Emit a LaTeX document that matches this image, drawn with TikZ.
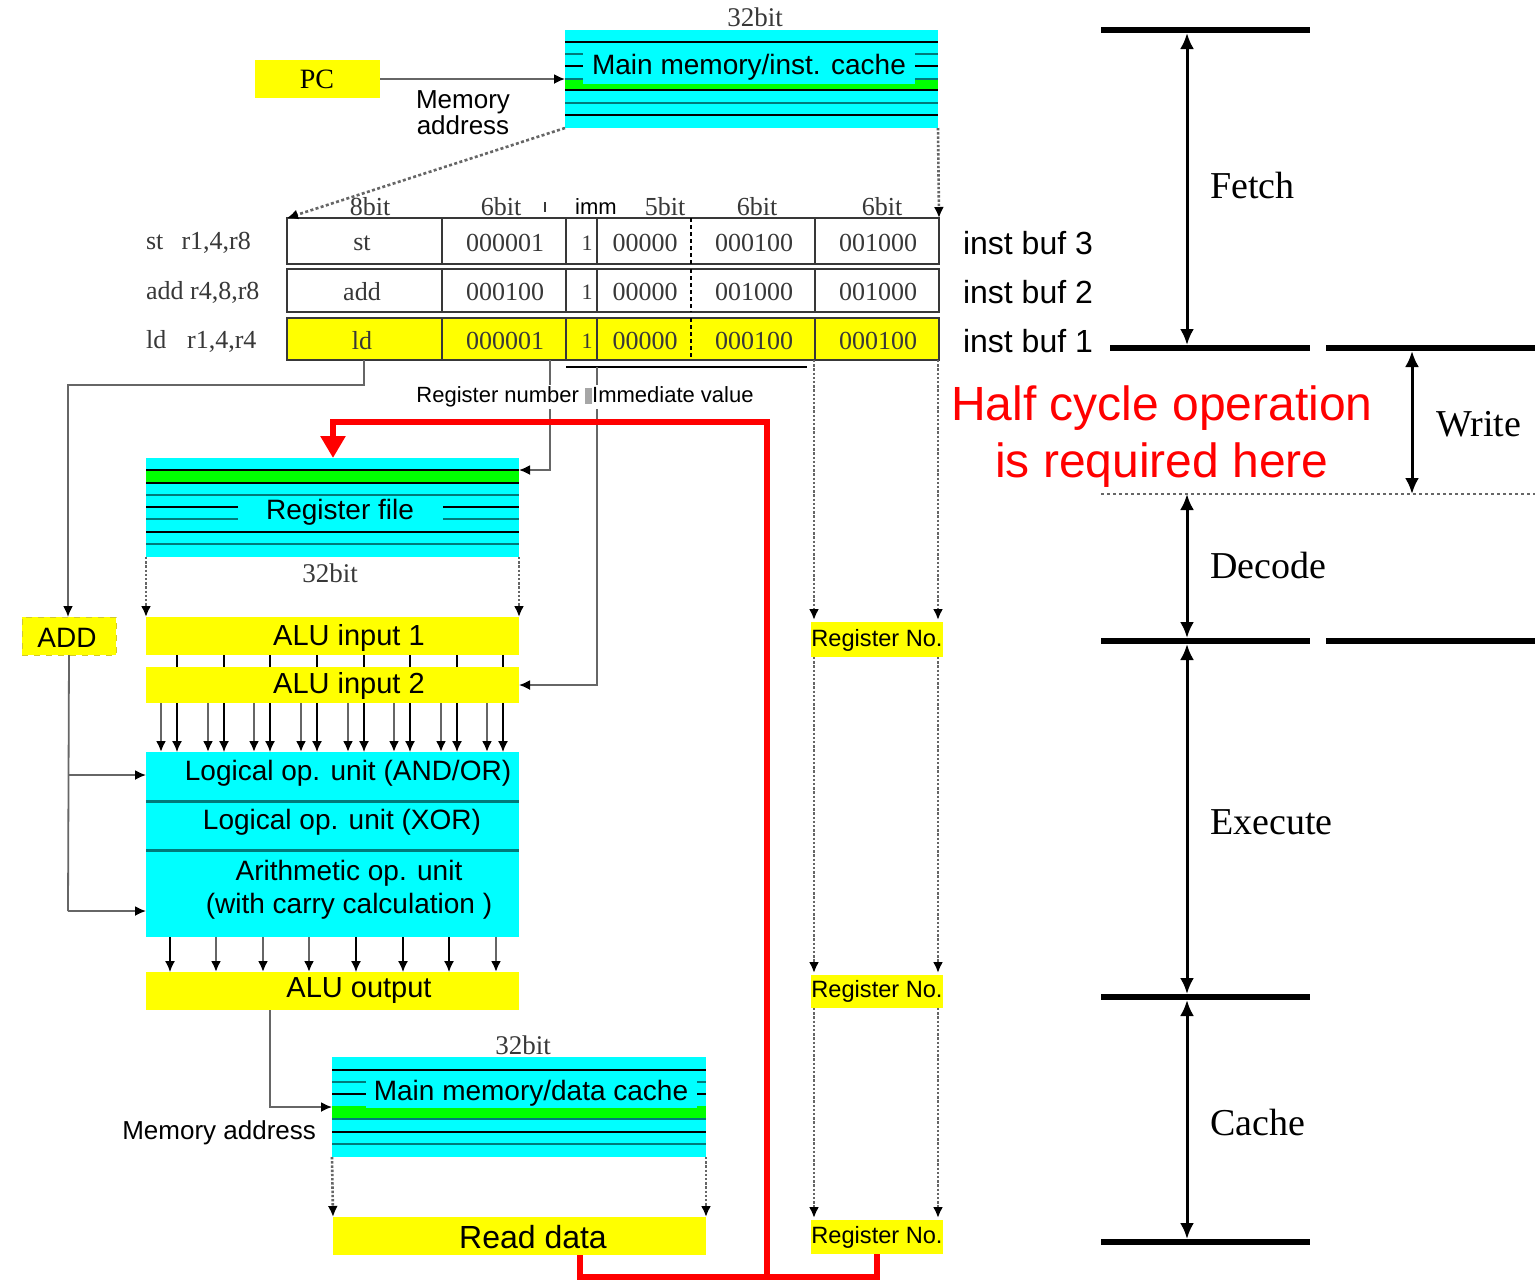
\documentclass[tikz,border=0pt]{standalone}
\usepackage{fontspec}
\setmainfont{Liberation Serif}
\setsansfont{Liberation Sans}
\usetikzlibrary{fit,arrows.meta}
\definecolor{cy}{HTML}{00FFFF}
\definecolor{gr}{HTML}{00FF00}
\definecolor{tl}{HTML}{007A7A}
\definecolor{yl}{HTML}{FFFF00}
\definecolor{ln}{HTML}{666666}
\definecolor{rd}{HTML}{FF0000}
\definecolor{tx}{HTML}{383838}
\begin{document}
\begin{tikzpicture}[x=0.5pt,y=-0.5pt,
  sf/.style={font=\sffamily\fontsize{#1}{#1}\selectfont},
  rmf/.style={font=\rmfamily\fontsize{#1}{#1}\selectfont},
  blk/.style={fit={#1}, inner sep=0pt, outer sep=0pt, fill=cy},
  ybx/.style={fit={#1}, inner sep=0pt, outer sep=0pt, fill=yl},
  blkln/.style={line width=1pt, black},
  tlln/.style={line width=1.3pt, tl},
  conn/.style={line width=0.9pt, ln},
  arrtip/.style={-{Latex[length=5.5pt,width=5pt,color=black]}},
  dotconn/.style={line width=1.3pt, ln, dash pattern=on 1.2pt off 0.9pt},
  tlbar/.style={line width=3pt, line cap=butt},
  tlarr/.style={line width=1.5pt, {Latex[length=8pt,width=7pt]}-{Latex[length=8pt,width=7pt]}},
  redln/.style={line width=2.9pt, rd, line join=miter},
  lbl/.style={fill=cy, inner sep=0pt},
]
\fill[white] (0,0) rectangle (1537,1282);
\useasboundingbox (0,0) rectangle (1537,1282);

% ---------- PC and instruction memory ----------
\node[ybx={(255,60)(380,98)}] (pc) {};
\node[rmf=14] (pct) at (317,79) {PC};
\node[blk={(565,30)(938,128)}] (imem) {};
\fill[gr] (565,79) rectangle (938,90);
\draw[blkln] (565,42) -- (938,42);
\draw[tlln] (565,54) -- (938,54);
\draw[blkln] (565,66) -- (938,66);
\draw[tlln] (565,79) -- (938,79);
\draw[blkln] (565,90) -- (938,90);
\draw[tlln] (565,103) -- (938,103);
\draw[blkln] (565,115) -- (938,115);
\node[lbl, minimum width=166pt, minimum height=17pt, sf=14] (imemlbl) at (749,67) {Main memory/inst. cache};
\node[rmf=13.5, text=tx] (b32a) at (755,17) {32bit};
\draw[conn, arrtip] (pc.east) -- (pc.east -| imem.west);
\node[sf=13, align=center] (maddr1) at (463,113) {Memory\\address};

% ---------- instruction buffer table ----------
\foreach \r/\ya/\yb/\fl in {1/218/264/white, 2/269/312/white, 3/318/360/yl} {
  \node[fit={(287,\ya)(939,\yb)}, inner sep=0pt, outer sep=0pt, fill=\fl, draw=tx, line width=1pt] (row\r) {};
  \foreach \cx in {442,566,597,815} \draw[tx, line width=0.9pt] (\cx,\ya) -- (\cx,\yb);
  \draw[black, line width=0.6pt, dash pattern=on 2pt off 1.5pt] (691,\ya) -- (691,\yb);
}
\draw[dotconn, dash pattern=on 1.5pt off 1.2pt, arrtip] (imem.south west) -- (row1.north west);
\draw[dotconn, arrtip] (imem.south east) -- (row1.north east);

\node[rmf=13, text=tx] (h1) at (370,207) {8bit};
\node[rmf=13, text=tx] (h2) at (501,207) {6bit};
\draw[tx, line width=0.6pt] (545,202) -- (545,212);
\node[sf=11, fill=white, inner sep=1pt] (h3) at (596,207) {imm};
\node[rmf=13, text=tx] (h4) at (665,207) {5bit};
\node[rmf=13, text=tx] (h5) at (757,207) {6bit};
\node[rmf=13, text=tx] (h6) at (882,207) {6bit};

\foreach \y/\a/\b/\c/\d/\e/\f in {243/st/000001/1/00000/000100/001000, 292/add/000100/1/00000/001000/001000, 341/ld/000001/1/00000/000100/000100} {
  \node[rmf=13, text=tx] (ca\y) at (362,\y) {\a};
  \node[rmf=13, text=tx] (cb\y) at (505,\y) {\b};
  \node[rmf=11, text=tx] (cc\y) at (587,\y) {\c};
  \node[rmf=13, text=tx] (cd\y) at (645,\y) {\d};
  \node[rmf=13, text=tx] (ce\y) at (754,\y) {\e};
  \node[rmf=13, text=tx] (cf\y) at (878,\y) {\f};
}
\node[rmf=13, text=tx, anchor=west] (l1) at (139,243) {st\hspace{0.7em}r1,4,r8};
\node[rmf=13, text=tx, anchor=west] (l2) at (139,292) {add r4,8,r8};
\node[rmf=13, text=tx, anchor=west] (l3) at (139,341) {ld\hspace{0.8em}r1,4,r4};
\node[sf=16, anchor=west] (ib3) at (956,243) {inst buf 3};
\node[sf=16, anchor=west] (ib2) at (956,292) {inst buf 2};
\node[sf=16, anchor=west] (ib1) at (956,341) {inst buf 1};

% ---------- register file ----------
\node[blk={(146,458)(519,557)}] (rf) {};
\fill[gr] (146,470) rectangle (519,483);
\draw[blkln] (146,470) -- (519,470);
\draw[blkln] (146,483) -- (519,483);
\draw[tlln] (146,495) -- (519,495);
\draw[blkln] (146,507) -- (519,507);
\draw[tlln] (146,519) -- (519,519);
\draw[blkln] (146,532) -- (519,532);
\draw[tlln] (146,544) -- (519,544);
\node[lbl, minimum width=102.5pt, minimum height=15pt, sf=14] (rflbl) at (340,512) {Register file};
\node[rmf=13.5, text=tx] (b32b) at (330,573) {32bit};

% ---------- ALU inputs ----------
\node[fit={(22,617)(116,655)}, inner sep=0pt, outer sep=0pt, fill=yl, draw=yellow!80!black, dashed, line width=0.5pt] (add) {};
\node[sf=14] (addt) at (67,638) {ADD};
\node[ybx={(146,617)(519,655)}] (alu1) {};
\node[sf=14.5] (alu1t) at (349,638) {ALU input 1};
\node[ybx={(146,667)(519,703)}] (alu2) {};
\node[sf=14.5] (alu2t) at (349,686) {ALU input 2};
\draw[dotconn, arrtip] (rf.south west) -- (alu1.north west);
\draw[dotconn, arrtip] (rf.south east) -- (alu1.north east);

\node[blk={(146,752)(519,937)}] (alu) {};
\draw[tl, line width=1.5pt] (146,801) -- (519,801);
\draw[tl, line width=1.5pt] (146,850) -- (519,850);
\node[sf=14] (u1) at (348,773) {Logical op. unit (AND/OR)};
\node[sf=14] (u2) at (342,822) {Logical op. unit (XOR)};
\node[align=center, font=\sffamily\fontsize{14}{16.5}\selectfont] (u3) at (349,890) {Arithmetic op. unit\\(with carry calculation )};

\foreach \xx in {177,224,270,317,364,410,457,503} {
  \draw[black, line width=0.7pt] (\xx,655) -- (\xx,667);
  \draw[ln, line width=1.3pt, arrtip] (\xx-16,703) -- (\xx-16,752);
  \draw[black, line width=0.7pt, arrtip] (\xx,703) -- (\xx,752);
}
\draw[conn, arrtip] (364,360) -- (364,385) -- (68,385) -- (68,617);
\draw[conn] (add.south) -- (68,911);
\draw[conn, arrtip] (68,775) -- (146,775);
\draw[conn, arrtip] (68,911) -- (146,911);

% ---------- ALU output ----------
\node[ybx={(146,972)(519,1010)}] (aluout) {};
\node[sf=14.5] (aluoutt) at (359,991) {ALU output};
\foreach \xx/\cc/\ww in {170/black/0.7pt,216/ln/1.3pt,263/ln/1.3pt,309/ln/1.3pt,356/black/0.7pt,403/black/0.7pt,449/black/0.7pt,496/ln/1.3pt} {
  \draw[\cc, line width=\ww, arrtip] (\xx,937) -- (\xx,972);
}

% ---------- data memory ----------
\node[blk={(332,1057)(706,1157)}] (dmem) {};
\fill[gr] (332,1106) rectangle (706,1118);
\draw[blkln] (332,1070) -- (706,1070);
\draw[tlln] (332,1082) -- (706,1082);
\draw[blkln] (332,1094) -- (706,1094);
\draw[tlln] (332,1119) -- (706,1119);
\draw[blkln] (332,1132) -- (706,1132);
\draw[tlln] (332,1144) -- (706,1144);
\node[lbl, minimum width=165.5pt, minimum height=15pt, sf=14] (dmemlbl) at (531,1093) {Main memory/data cache};
\node[rmf=13.5, text=tx] (b32c) at (523,1045) {32bit};
\draw[conn, arrtip] (270,1010) -- (270,1107) -- (332,1107);
\node[sf=13, anchor=east] (maddr2) at (323,1133) {Memory address};
\node[ybx={(333,1217)(706,1255)}] (rd) {};
\node[sf=16] (rdt) at (533,1237) {Read data};
\draw[dotconn, arrtip] (dmem.south west) -- (rd.north west);
\draw[dotconn, arrtip] (dmem.south east) -- (rd.north east);

% ---------- register number / immediate paths ----------
\draw[conn, arrtip] (550,360) -- (550,470) -- (519,470);
\draw[black, line width=0.8pt] (566,367) -- (807,367);
\draw[conn, arrtip] (597,367) -- (597,685) -- (alu2.east);
\node[sf=11, fill=white, inner sep=1pt] (rnlbl) at (585,397) {Register number \textcolor{gray!70}{\rule[-0.5pt]{3.5pt}{8pt}}Immediate value};

% ---------- Register No. chain ----------
\node[ybx={(811,622)(943,657)}] (rn1) {};
\node[sf=11.8] (rn1t) at (877,640) {Register No.};
\node[ybx={(811,975)(943,1008)}] (rn2) {};
\node[sf=11.8] (rn2t) at (877,991) {Register No.};
\node[ybx={(811,1220)(943,1254)}] (rn3) {};
\node[sf=11.8] (rn3t) at (877,1237) {Register No.};
\foreach \xx in {814,938} {
  \draw[dotconn, arrtip] (\xx,360) -- (\xx,620);
  \draw[dotconn, arrtip] (\xx,657) -- (\xx,973);
  \draw[dotconn, arrtip] (\xx,1008) -- (\xx,1218);
}

% ---------- red write-back path ----------
\draw[redln] (580,1255) -- (580,1277) -- (877,1277) -- (877,1254);
\draw[redln, -{Triangle[length=11pt,width=12pt]}] (767,1277) -- (767,422) -- (333,422) -- (333,458);

\node[text=rd, align=center, font=\sffamily\fontsize{24}{28.5}\selectfont] (half) at (1162,437) {Half cycle operation\\is required here};

% ---------- timeline ----------
\draw[tlbar] (1101,30) -- (1310,30);
\draw[tlbar] (1110,348) -- (1310,348);
\draw[tlbar] (1326,348) -- (1535,348);
\draw[tlbar] (1101,641) -- (1310,641);
\draw[tlbar] (1326,641) -- (1535,641);
\draw[tlbar] (1101,997) -- (1310,997);
\draw[tlbar] (1101,1242) -- (1310,1242);
\draw[ln, line width=1.1pt, dash pattern=on 1.5pt off 1.5pt] (1101,494) -- (1535,494);
\draw[tlarr] (1187,33) -- (1187,345);
\draw[tlarr] (1412,351) -- (1412,494);
\draw[tlarr] (1187,494) -- (1187,638);
\draw[tlarr] (1187,644) -- (1187,994);
\draw[tlarr] (1187,1000) -- (1187,1239);
\node[rmf=19, anchor=west] (tf) at (1203,185) {Fetch};
\node[rmf=19, anchor=west] (tw) at (1429,424) {Write};
\node[rmf=19, anchor=west] (td) at (1203,565) {Decode};
\node[rmf=19, anchor=west] (te) at (1203,822) {Execute};
\node[rmf=19, anchor=west] (tc) at (1203,1122) {Cache};
\end{tikzpicture}
\end{document}
